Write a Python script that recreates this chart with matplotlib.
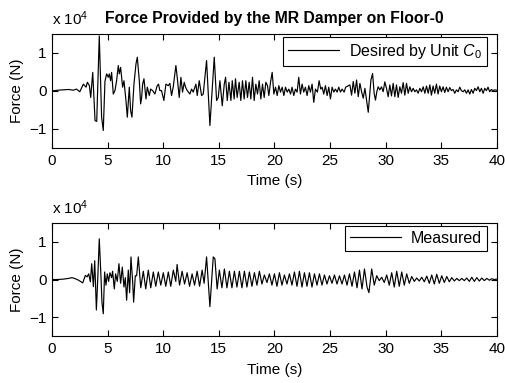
import numpy as np
import matplotlib.pyplot as plt

plt.rcParams['font.family'] = ['Liberation Sans', 'DejaVu Sans']
plt.rcParams['mathtext.fontset'] = 'custom'
plt.rcParams['mathtext.it'] = 'Liberation Sans:italic'
plt.rcParams['mathtext.rm'] = 'Liberation Sans'

# Force in units of 10^4 N, turning points
t_desired = [0.0, 0.5, 1.0, 1.5, 1.9, 2.2, 2.5, 2.82, 3.06, 3.18, 3.36, 3.48, 3.66, 3.87, 4.02,
             4.25, 4.46, 4.61, 4.76, 4.91, 5.06, 5.15, 5.27, 5.36, 5.51, 5.66, 5.81, 5.96, 6.05,
             6.17, 6.35, 6.47, 6.65, 6.77, 6.95, 7.07, 7.19, 7.37, 7.55, 7.67, 7.85, 7.97, 8.06,
             8.15, 8.27, 8.45, 8.57, 8.75, 8.87, 9.05, 9.25, 9.46, 9.58, 9.70, 9.85, 10.06, 10.24,
             10.45, 10.60, 10.75, 10.90, 11.14, 11.26, 11.44, 11.59, 11.74, 11.89, 12.01, 12.16,
             12.40, 12.55, 12.70, 12.94, 13.06, 13.24, 13.45, 13.60, 13.90, 14.20, 14.59, 14.80,
             14.95, 15.10, 15.31, 15.49, 15.61, 15.76, 15.91, 16.09, 16.21, 16.38, 16.50, 16.65,
             16.83, 16.98, 17.13, 17.28, 17.43, 17.58, 17.73, 17.88, 18.03, 18.18, 18.33, 18.48,
             18.63, 18.78, 18.93, 19.08, 19.23, 19.38, 19.50, 19.65, 19.80, 19.95, 20.10, 20.25,
             20.40, 20.55, 20.70, 20.85, 21.00, 21.15, 21.30, 21.45, 21.59, 21.74, 21.89, 22.04,
             22.19, 22.34, 22.49, 22.64, 22.79, 22.94, 23.09, 23.24, 23.39, 23.54, 23.69, 23.87,
             24.02, 24.17, 24.29, 24.44, 24.59, 24.74, 24.89, 25.04, 25.19, 25.34, 25.49, 25.64,
             25.79, 25.94, 26.09, 26.27, 26.41, 26.79, 26.94, 27.09, 27.24, 27.39, 27.54, 27.69,
             27.84, 27.99, 28.14, 28.29, 28.44, 28.53, 28.68, 28.83, 28.97, 29.09, 29.21, 29.33,
             29.48, 29.63, 29.78, 29.93, 30.08, 30.23, 30.38, 30.53, 30.68, 30.83, 30.98, 31.13,
             31.28, 31.43, 31.58, 31.73, 31.88, 32.03, 32.18, 32.33, 32.48, 32.63, 32.78, 32.93,
             33.08, 33.23, 33.38, 33.53, 33.68, 33.83, 33.98, 34.12, 34.27, 34.42, 34.57, 34.72,
             34.87, 35.02, 35.17, 35.32, 35.47, 35.62, 35.77, 35.92, 36.07, 36.22, 36.37, 36.52,
             36.67, 36.82, 36.97, 37.12, 37.27, 37.42, 37.57, 37.72, 37.87, 38.02, 38.17, 38.32,
             38.47, 38.62, 38.77, 38.92, 39.07, 39.21, 39.36, 39.51, 39.66, 39.81, 40.0]
f_desired = [0.0, 0.02, 0.03, 0.04, 0.02, 0.05, -0.02, 0.18, 0.10, 0.23, 0.14, -0.17, 0.49, -0.78, -0.80,
             1.45, -0.69, -1.04, 0.25, 0.45, 0.36, 0.45, 0.27, 0.49, -0.08, 0.01, 0.27, 0.67, 0.45,
             0.62, 0.10, 0.27, -0.25, -0.69, 0.10, -0.52, -0.69, 0.18, 0.71, 0.89, 0.27, -0.34, -0.17,
             0.18, 0.32, -0.21, 0.10, -0.12, 0.05, 0.01, -0.08, 0.14, 0.18, 0.01, 0.01, -0.25, 0.18,
             0.14, 0.20, -0.12, 0.10, 0.67, 0.36, -0.17, 0.36, -0.03, 0.23, 0.10, 0.01,
             -0.08, 0.05, -0.03, 0.18, -0.12, 0.27, -0.12, -0.08, 0.80, -0.91, 0.89, -0.25,
             -0.17, 0.27, -0.39, 0.18, 0.36, -0.25, 0.23, -0.25, 0.27, -0.21, 0.32, -0.17,
             0.23, -0.25, 0.27, -0.21, 0.27, -0.17, 0.23, -0.21, 0.36, -0.25, 0.18, -0.08,
             0.27, -0.21, 0.18, -0.17, 0.23, 0.14, -0.12, 0.23, 0.49, -0.08, 0.10, -0.12,
             0.14, -0.03, 0.10, -0.12, 0.10, -0.03, 0.05, -0.08, 0.10, -0.12, 0.05, -0.03,
             0.36, -0.08, 0.18, -0.03, 0.10, -0.12, 0.14, -0.03, 0.18, -0.30, 0.05, -0.03,
             0.27, 0.05, 0.10, -0.08, 0.14, -0.12, 0.10, -0.21, 0.10, -0.03, 0.05, -0.03,
             0.10, -0.03, 0.05, -0.03, 0.10, 0.16, -0.11, 0.25, -0.06, 0.29, -0.15, 0.20,
             -0.02, -0.19, 0.07, -0.24, -0.56, -0.24, 0.29, 0.46, -0.06, -0.24, -0.02, 0.11,
             0.03, 0.11, -0.02, 0.24, 0.07, -0.15, 0.16, -0.13, 0.20, -0.15, 0.16, -0.17,
             0.11, -0.06, 0.22, -0.11, 0.20, -0.06, 0.11, -0.02, 0.07, -0.02, 0.03, -0.06,
             0.07, -0.02, 0.11, -0.06, 0.13, -0.06, 0.16, -0.11, 0.13, -0.06, 0.18, -0.08,
             0.13, -0.02, 0.11, -0.04, 0.10, -0.02, 0.09, 0.01, 0.04, -0.06, 0.03, -0.02,
             0.10, 0.01, -0.02, 0.03, -0.06, 0.03, -0.08, 0.04, -0.06, 0.07, 0.01, 0.11,
             -0.02, 0.07, -0.06, 0.07, 0.01, 0.10, -0.02, 0.04, 0.01, 0.03, 0.02]

t_measured = [0.0, 0.5, 1.0, 1.5, 1.8, 2.1, 2.4, 2.76, 3.0, 3.15, 3.3, 3.45, 3.57, 3.72, 3.84, 3.99,
              4.11, 4.25, 4.40, 4.49, 4.61, 4.73, 4.85, 4.97, 5.09, 5.21, 5.36, 5.45, 5.60, 5.72,
              5.87, 6.02, 6.17, 6.32, 6.47, 6.59, 6.71, 6.86, 6.98, 7.10, 7.25, 7.34, 7.49, 7.61,
              7.76, 7.98, 8.21, 8.43, 8.66, 8.88, 9.11, 9.33, 9.56, 9.78, 10.01, 10.23, 10.46,
              10.68, 10.91, 11.13, 11.25, 11.47, 11.70, 11.92, 12.15, 12.37, 12.60, 12.82, 13.05,
              13.27, 13.50, 13.68, 13.90, 14.20, 14.50, 14.65, 14.85, 15.05, 15.28, 15.50, 15.73,
              15.95, 16.18, 16.40, 16.63, 16.85, 17.08, 17.30, 17.53, 17.75, 17.98, 18.20, 18.43,
              18.65, 18.88, 19.10, 19.33, 19.55, 19.78, 20.00, 20.23, 20.45, 20.68, 20.90, 21.13,
              21.35, 21.58, 21.80, 22.03, 22.25, 22.48, 22.70, 22.93, 23.15, 23.38, 23.60, 23.83,
              24.05, 24.28, 24.50, 24.73, 24.95, 25.18, 25.40, 25.63, 25.85, 26.08, 26.30, 26.53,
              26.75, 26.98, 27.20, 27.43, 27.65, 27.88, 28.10, 28.33, 28.50, 28.75, 28.98, 29.20,
              29.43, 29.65, 29.88, 30.10, 30.33, 30.55, 30.78, 31.00, 31.23, 31.45, 31.68, 31.90,
              32.13, 32.35, 32.58, 32.80, 33.03, 33.25, 33.48, 33.70, 33.93, 34.15, 34.38, 34.60,
              34.83, 35.05, 35.28, 35.50, 35.73, 35.95, 36.18, 36.40, 36.63, 36.85, 37.08, 37.30,
              37.53, 37.75, 37.98, 38.20, 38.43, 38.65, 38.88, 39.10, 39.33, 39.55, 39.78, 40.0]
f_measured = [0.0, 0.0, 0.01, 0.03, 0.05, 0.02, -0.02, -0.09, 0.11, 0.07, 0.15, -0.06, 0.42, -0.19, 0.50, -0.81,
              0.0, 1.08, 0.10, -0.60, -0.91, 0.20, -0.15, 0.15, -0.05, 0.18, 0.05, 0.22, -0.25, 0.15,
              -0.05, 0.42, -0.10, 0.33, -0.20, 0.05, -0.55, 0.25, -0.35, 0.60, -0.05, -0.60, 0.10, 0.10,
              0.60, -0.22, 0.22, -0.25, 0.25, -0.22, 0.20, -0.18, 0.20, -0.15, 0.18, -0.18, 0.20,
              -0.18, 0.25, -0.05, 0.40, -0.15, 0.22, -0.12, 0.18, -0.18, 0.15, -0.15, 0.22,
              -0.18, 0.25, -0.10, 0.60, -0.72, 0.60, 0.55, -0.25, 0.25, -0.22, 0.28, -0.22,
              0.22, -0.22, 0.22, -0.20, 0.22, -0.22, 0.22, -0.20, 0.20, -0.18, 0.18, -0.15,
              0.22, -0.12, 0.12, -0.08, 0.15, -0.15, 0.15, -0.18, 0.18, -0.15, 0.12, -0.12,
              0.15, -0.15, 0.20, -0.18, 0.22, -0.20, 0.18, -0.18, 0.18, -0.20, 0.15, -0.15,
              0.15, -0.15, 0.12, -0.12, 0.10, -0.10, 0.12, -0.12, 0.10, -0.12, 0.12, -0.15,
              0.15, -0.18, 0.20, -0.22, 0.25, -0.25, 0.28, -0.20, -0.35, 0.28, -0.15, 0.10,
              -0.03, 0.06, -0.08, 0.12, -0.15, 0.18, -0.20, 0.22, -0.18, 0.20, -0.15, 0.15,
              -0.10, 0.08, -0.05, 0.04, -0.04, 0.06, -0.06, 0.09, -0.10, 0.12, -0.12, 0.14,
              -0.10, 0.10, -0.08, 0.08, -0.06, 0.05, -0.04, 0.03, -0.03, 0.03, -0.03, 0.04,
              -0.05, 0.06, -0.05, 0.05, -0.04, 0.04, -0.03, 0.03, -0.02, 0.02, 0.0, 0.01]

fig = plt.figure(figsize=(5.06, 3.83), dpi=100)
ax1 = fig.add_axes([0.1028, 0.6136, 0.879, 0.2977])
ax2 = fig.add_axes([0.1028, 0.1227, 0.879, 0.295])

series = [(ax1, t_desired, f_desired, r'Desired by Unit $C_{\mathit{0}}$', 0.974),
          (ax2, t_measured, f_measured, 'Measured', 0.973)]

for ax, t, f, lab, ytop in series:
    ax.plot(t, f, color='black', lw=0.85, label=lab)
    ax.set_xlim(0, 40)
    ax.set_ylim(-1.5, 1.5)
    ax.set_xticks(range(0, 41, 5))
    ax.set_yticks([-1, 0, 1])
    ax.tick_params(direction='in', top=True, right=True, length=4, width=0.8, labelsize=11, pad=4)
    for s in ax.spines.values():
        s.set_linewidth(0.8)
    ax.set_xlabel('Time (s)', fontsize=11, labelpad=5)
    ax.set_ylabel('Force (N)', fontsize=11, labelpad=4)
    leg = ax.legend(loc='upper right', bbox_to_anchor=(0.9775, ytop), borderaxespad=0,
                    fontsize=11.5, handlelength=3.2, fancybox=False, framealpha=1,
                    edgecolor='black', borderpad=0.3, handletextpad=0.6)
    leg.get_frame().set_linewidth(0.8)
    ax.text(0, 1.08, r'x 10$^4$', transform=ax.transAxes, fontsize=11, va='baseline', ha='left')

ax1.text(0.5, 1.095, 'Force Provided by the MR Damper on Floor-0', transform=ax1.transAxes,
         fontsize=11.3, fontweight='bold', ha='center', va='baseline')

fig.savefig('out.png', dpi=100)
